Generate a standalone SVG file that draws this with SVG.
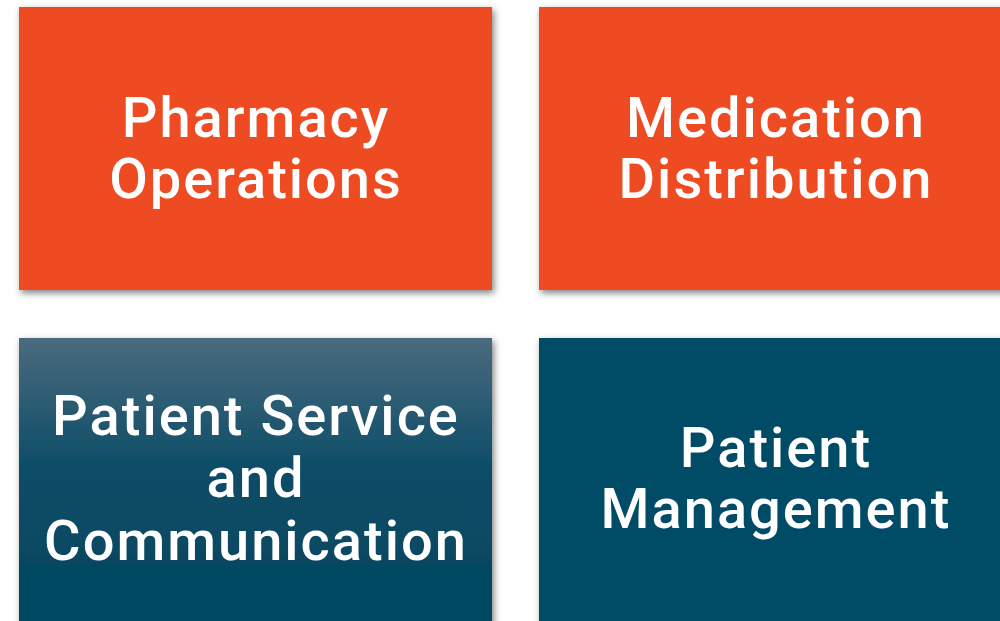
<svg xmlns="http://www.w3.org/2000/svg" width="1000" height="621" viewBox="0 0 1000 621">
<defs>
<filter id="sh" x="-5%" y="-5%" width="115%" height="115%">
<feDropShadow dx="2" dy="3" stdDeviation="3.5" flood-color="#000" flood-opacity="0.5"/>
</filter>
<linearGradient id="g1" x1="0" y1="0" x2="0" y2="1">
<stop offset="0" stop-color="#4A6A7E"/>
<stop offset="0.45" stop-color="#0A4C66"/>
<stop offset="1" stop-color="#034862"/>
</linearGradient>
<style>
.o{fill:#EF4B24}
.t{fill:#064C65}
text{font-family:Roboto,"Liberation Sans",Arial,sans-serif;font-weight:500;font-size:56px;fill:#fff;text-anchor:middle;letter-spacing:2px}
</style>
</defs>
<rect width="1000" height="621" fill="#fff"/>
<g id="pharmacy-operations">
<rect class="o" x="19" y="7" width="473" height="283" filter="url(#sh)"/>
<text x="256" y="137">Pharmacy</text>
<text x="256" y="198">Operations</text>
</g>
<g id="medication-distribution">
<rect class="o" x="539" y="7" width="480" height="283" filter="url(#sh)"/>
<text x="776" y="137">Medication</text>
<text x="776" y="198">Distribution</text>
</g>
<g id="patient-service">
<rect x="19" y="338" width="473" height="300" fill="url(#g1)" filter="url(#sh)"/>
<text x="256" y="435">Patient Service</text>
<text x="256" y="497">and</text>
<text x="256" y="560">Communication</text>
</g>
<g id="patient-management">
<rect class="t" x="539" y="338" width="480" height="300" filter="url(#sh)"/>
<text x="776" y="467">Patient</text>
<text x="776" y="528">Management</text>
</g>
<g id="connectors"/>
</svg>
